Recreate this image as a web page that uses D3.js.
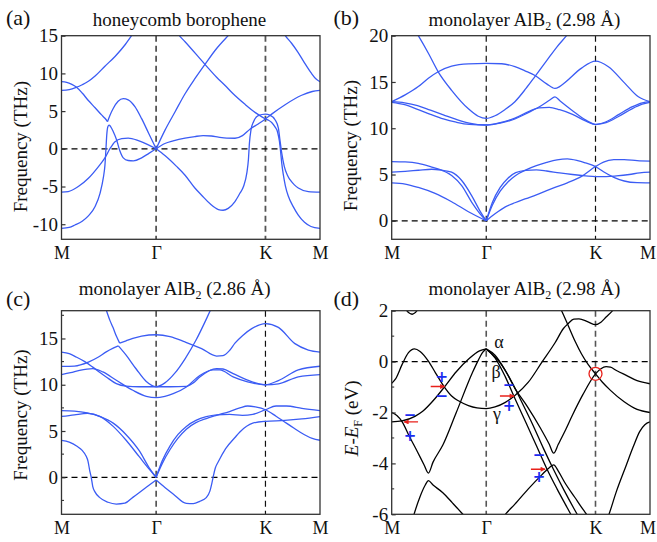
<!DOCTYPE html>
<html><head><meta charset="utf-8">
<script src="https://cdn.jsdelivr.net/npm/d3@7/dist/d3.min.js"></script>
<style>
body{margin:0;background:#fff;}
svg text{font-family:"Liberation Serif","Times New Roman",serif;}
</style></head><body>
<svg id="chart" width="657" height="542"></svg>
<script>
// ---------------- data ----------------
const kTicks = [0, 0.366, 0.789, 1];
const kLabels = ["M", "Γ", "K", "M"];

const yTicksA = [-10, -5, 0, 5, 10, 15];
const yTicksB = [0, 5, 10, 15, 20];
const yTicksC = [0, 5, 10, 15];
const yMinorC = [-2.5, 2.5, 7.5, 12.5, 17.5];
const yTicksD = [-6, -4, -2, 0, 2];
const yMinorD = [-5, -3, -1, 1];

// honeycomb borophene phonons (THz)
const bandsA = [
 [[0,7.75],[0.03,7.85],[0.057,8.15],[0.08,8.5],[0.104,8.95],[0.13,9.65],[0.168,10.95],[0.207,12.25],[0.246,13.8],[0.271,15.0],[0.3,16.4]],
 [[0,8.9],[0.02,8.82],[0.04,8.55],[0.057,8.2],[0.08,7.4],[0.104,6.4],[0.13,5.45],[0.155,4.5],[0.168,4.05],[0.178,3.6]],
 [[0.178,3.6],[0.188,4.5],[0.2,5.35],[0.219,6.3],[0.239,6.65],[0.258,6.5],[0.284,5.6],[0.31,4.0],[0.338,2.0],[0.366,0]],
 [[0,-10.55],[0.03,-10.42],[0.052,-10.1],[0.08,-9.6],[0.104,-8.9],[0.13,-7.66],[0.149,-5.9],[0.162,-3.8],[0.168,-2.2],[0.172,0.0],[0.175,1.8],[0.179,2.9],[0.184,3.15],[0.19,2.95],[0.2,2.3],[0.213,1.2],[0.226,-0.3],[0.239,-1.2],[0.258,-1.55],[0.278,-1.6],[0.31,-1.2],[0.338,-0.6],[0.366,0]],
 [[0,-5.75],[0.026,-5.67],[0.065,-5.0],[0.104,-3.9],[0.143,-2.35],[0.168,-1.2],[0.188,0.05],[0.207,0.95],[0.233,1.35],[0.258,1.42],[0.297,1.1],[0.338,0.5],[0.366,0]],
 [[0.366,0],[0.40,2.45],[0.44,4.95],[0.478,7.3],[0.516,9.3],[0.555,11.2],[0.6,13.3],[0.646,15.05],[0.7,17]],
 [[0.42,16.7],[0.451,15.2],[0.478,14.2],[0.555,11.2],[0.6,9.5],[0.633,8.4],[0.664,7.3],[0.71,5.9],[0.75,4.8],[0.789,3.95]],
 [[0.789,3.95],[0.80,3.8],[0.813,3.5],[0.826,2.9],[0.836,2.2],[0.843,1.0],[0.848,-0.5],[0.852,-1.9],[0.858,-3.4],[0.866,-4.9],[0.878,-6.33],[0.897,-7.7],[0.916,-8.8],[0.94,-9.75],[0.965,-10.3],[1.0,-10.55]],
 [[0.366,0],[0.40,0.7],[0.432,1.05],[0.478,1.42],[0.516,1.63],[0.548,1.75],[0.58,1.7],[0.607,1.55],[0.64,1.42],[0.671,1.4],[0.70,1.75],[0.729,2.6],[0.761,3.3],[0.789,3.95],[0.813,4.6],[0.865,5.85],[0.929,7.1],[0.97,7.6],[1.0,7.75]],
 [[0.366,0],[0.40,-0.9],[0.444,-2.3],[0.478,-3.5],[0.516,-5.2],[0.542,-6.15],[0.575,-7.3],[0.607,-8.05],[0.625,-8.15],[0.645,-7.9],[0.671,-7.0],[0.69,-5.9],[0.704,-5.0],[0.717,-3.2],[0.723,-1.46],[0.727,0.75],[0.733,2.5],[0.743,3.6],[0.761,4.4],[0.789,4.6],[0.806,4.47],[0.826,3.85],[0.839,2.75],[0.845,1.2],[0.852,-0.57],[0.862,-2.35],[0.874,-3.5],[0.884,-4.1],[0.9,-4.75],[0.916,-5.2],[0.955,-5.67],[1.0,-5.75]],
 [[0.845,16.3],[0.865,15.05],[0.89,14.0],[0.915,12.8],[0.94,11.4],[0.965,10.1],[0.985,9.25],[1.0,8.9]]
];

// monolayer AlB2 (2.98 Å) phonons
const bandsB = [
 [[0.09,20.6],[0.103,20.0],[0.142,18.1],[0.18,16.1],[0.232,14.1],[0.297,12.1],[0.335,11.3],[0.366,11.07],[0.40,11.35],[0.44,12.05],[0.477,12.87],[0.52,14.3],[0.555,15.6],[0.6,17.3],[0.64,18.8],[0.677,20.0],[0.7,20.8]],
 [[0,12.87],[0.052,13.6],[0.103,14.5],[0.142,15.4],[0.18,16.1],[0.232,16.7],[0.297,16.95],[0.366,17.0],[0.426,16.97],[0.477,16.65],[0.516,16.2],[0.555,15.7],[0.6,14.8],[0.632,14.3],[0.65,14.5],[0.671,14.95],[0.735,16.5],[0.789,17.25],[0.839,16.65],[0.903,14.85],[0.955,13.4],[1.0,12.87]],
 [[0,12.87],[0.05,12.75],[0.1,12.45],[0.15,11.95],[0.2,11.45],[0.25,10.95],[0.3,10.55],[0.366,10.35],[0.42,10.6],[0.477,11.1],[0.53,11.8],[0.57,12.2],[0.61,12.25],[0.65,12.0],[0.70,11.5],[0.75,10.8],[0.789,10.4],[0.83,10.7],[0.88,11.5],[0.93,12.3],[0.97,12.75],[1.0,12.87]],
 [[0,12.8],[0.05,12.55],[0.1,12.05],[0.15,11.5],[0.2,11.0],[0.25,10.65],[0.3,10.42],[0.366,10.35],[0.42,10.55],[0.477,11.0],[0.53,11.7],[0.58,12.45],[0.612,13.05],[0.632,13.4],[0.652,12.95],[0.70,11.9],[0.75,10.9],[0.789,10.42],[0.83,10.6],[0.88,11.3],[0.93,12.1],[0.97,12.6],[1.0,12.8]],
 [[0,6.4],[0.052,6.36],[0.103,6.2],[0.155,5.8],[0.194,5.46],[0.232,4.9],[0.271,3.8],[0.31,2.0],[0.342,0.75],[0.366,0]],
 [[0,5.25],[0.052,5.35],[0.103,5.46],[0.155,5.57],[0.194,5.46],[0.232,5.25],[0.271,4.35],[0.31,2.7],[0.342,1.05],[0.366,0]],
 [[0,4.1],[0.052,3.97],[0.103,3.6],[0.168,2.96],[0.232,2.06],[0.297,0.98],[0.366,0]],
 [[0.366,0],[0.39,2.0],[0.42,3.6],[0.45,4.6],[0.48,5.2],[0.52,5.45],[0.56,5.5],[0.6,5.38],[0.65,5.17],[0.7,5.0],[0.75,4.86],[0.789,4.78],[0.83,4.78],[0.87,4.85],[0.92,5.0],[0.96,5.18],[1.0,5.25]],
 [[0.366,0],[0.39,1.7],[0.42,3.2],[0.45,4.2],[0.48,4.9],[0.52,5.5],[0.56,5.95],[0.6,6.3],[0.64,6.58],[0.68,6.69],[0.72,6.5],[0.75,6.25],[0.789,5.86],[0.82,5.3],[0.86,4.7],[0.9,4.3],[0.95,4.12],[1.0,4.1]],
 [[0.366,0],[0.40,0.75],[0.44,1.5],[0.477,1.95],[0.52,2.4],[0.56,2.8],[0.6,3.25],[0.632,3.6],[0.68,4.1],[0.735,4.8],[0.789,5.86],[0.82,6.35],[0.86,6.6],[0.9,6.62],[0.95,6.5],[1.0,6.45]]
];

// monolayer AlB2 (2.86 Å) phonons
const bandsC = [
 [[0.163,18.8],[0.173,18.07],[0.188,16.9],[0.199,16.2],[0.213,15.2],[0.225,14.5]],
 [[0.225,14.5],[0.25,14.75],[0.276,15.0],[0.31,15.25],[0.366,15.4],[0.42,15.2],[0.478,14.62],[0.542,13.9],[0.6,13.1],[0.625,13.15],[0.65,13.7],[0.671,14.5],[0.7,15.3],[0.736,16.06],[0.789,16.6],[0.839,16.2],[0.903,14.44],[0.955,13.75],[1.0,13.53]],
 [[0,11.98],[0.05,12.02],[0.104,12.45],[0.143,13.0],[0.173,13.55],[0.2,13.95],[0.22,14.2]],
 [[0.22,14.2],[0.25,13.2],[0.289,11.7],[0.328,10.35],[0.366,9.78],[0.40,10.2],[0.44,11.3],[0.478,12.8],[0.52,14.8],[0.562,17.2],[0.585,18.6]],
 [[0,13.53],[0.03,13.35],[0.057,13.0],[0.09,12.5],[0.121,11.9],[0.15,11.3],[0.173,10.84],[0.212,10.12],[0.25,9.85],[0.3,9.78],[0.366,9.78],[0.42,9.78],[0.483,9.82],[0.51,10.2],[0.535,10.84],[0.6,11.75],[0.625,11.7],[0.664,11.2],[0.72,10.5],[0.789,10.0],[0.839,10.45],[0.916,11.6],[1.0,12.0]],
 [[0,11.1],[0.035,11.3],[0.07,11.56],[0.121,11.75],[0.16,11.38],[0.212,10.48],[0.276,9.4],[0.328,8.75],[0.366,8.6],[0.40,8.75],[0.432,9.03],[0.483,9.76],[0.535,11.0],[0.587,11.6],[0.612,11.6],[0.664,10.84],[0.72,10.3],[0.789,10.0],[0.839,10.1],[0.916,10.85],[1.0,11.1]],
 [[0,7.2],[0.05,7.15],[0.1,6.95],[0.15,6.55],[0.2,5.85],[0.25,4.6],[0.3,2.9],[0.34,1.0],[0.366,0]],
 [[0.366,0],[0.39,1.5],[0.42,3.0],[0.45,4.2],[0.483,5.2],[0.52,5.9],[0.56,6.35],[0.6,6.7],[0.65,7.1],[0.69,7.5],[0.72,7.7],[0.75,7.6],[0.789,7.3],[0.83,6.6],[0.87,5.85],[0.9,5.3],[0.94,4.6],[0.97,4.2],[1.0,4.0]],
 [[0,6.57],[0.05,6.75],[0.1,6.9],[0.15,6.55],[0.2,5.5],[0.25,4.0],[0.3,2.25],[0.34,0.85],[0.366,0]],
 [[0.366,0],[0.39,1.8],[0.42,3.4],[0.45,4.6],[0.483,5.5],[0.52,6.15],[0.56,6.55],[0.6,6.75],[0.65,6.8],[0.7,6.7],[0.74,6.8],[0.789,7.3],[0.83,7.7],[0.87,7.7],[0.93,7.45],[1.0,7.2]],
 [[0,3.98],[0.03,3.8],[0.06,3.35],[0.08,2.9],[0.095,2.3],[0.102,1.8],[0.11,0.6],[0.115,0],[0.121,-1.0],[0.13,-1.6],[0.147,-2.17],[0.18,-2.7],[0.212,-2.89],[0.245,-2.8],[0.276,-2.17],[0.328,-1.08],[0.366,-0.3]],
 [[0.366,-0.3],[0.40,-1.1],[0.432,-1.8],[0.483,-2.82],[0.51,-2.85],[0.535,-2.6],[0.56,-2.2],[0.574,-1.5],[0.582,-0.6],[0.588,0.2],[0.595,1.0],[0.607,1.7],[0.635,3.1],[0.671,4.3],[0.69,4.9],[0.74,5.85],[0.789,6.05],[0.864,6.14],[0.93,6.3],[1.0,6.55]]
];

// monolayer AlB2 (2.98 Å) electronic bands (eV)
const bandsD = [
 [[0.04,2.3],[0.058,2.0],[0.079,1.86],[0.098,2.0],[0.115,2.3]],
 [[0,-0.85],[0.015,-0.68],[0.04,-0.12],[0.065,0.35],[0.088,0.5],[0.11,0.4],[0.142,0.02],[0.17,-0.45],[0.204,-1.0],[0.232,-1.35],[0.26,-1.55],[0.297,-1.73],[0.33,-1.82],[0.366,-1.85],[0.40,-1.78],[0.44,-1.6],[0.477,-1.33],[0.529,-0.81],[0.581,-0.03],[0.633,0.75],[0.665,1.3],[0.684,1.5],[0.705,1.67],[0.725,1.68],[0.76,1.56],[0.789,1.45],[0.81,1.55],[0.83,1.75],[0.855,2.0],[0.88,2.35]],
 [[0,-2.37],[0.04,-2.33],[0.09,-2.15],[0.12,-1.95],[0.168,-1.45],[0.204,-1.0],[0.25,-0.4],[0.30,0.12],[0.34,0.42],[0.366,0.5]],
 [[0,-2.0],[0.02,-2.12],[0.04,-2.36],[0.069,-2.95],[0.1,-3.55],[0.125,-4.05],[0.142,-4.38],[0.16,-3.95],[0.198,-3.28],[0.25,-2.0],[0.314,-0.4],[0.335,0.05],[0.352,0.36],[0.366,0.5]],
 [[0.075,-6.4],[0.088,-5.95],[0.11,-5.3],[0.13,-4.85],[0.142,-4.68],[0.16,-4.85],[0.198,-5.15],[0.235,-5.55],[0.271,-5.95],[0.3,-6.3]],
 [[0.366,0.5],[0.40,0.25],[0.44,-0.35],[0.477,-1.05],[0.524,-1.75],[0.575,-2.6],[0.61,-3.25],[0.627,-3.6],[0.645,-3.25],[0.67,-2.75],[0.7,-2.1],[0.74,-1.3],[0.789,-0.48],[0.81,-0.28],[0.83,-0.2],[0.847,-0.22],[0.87,-0.35],[0.91,-0.55],[0.95,-0.75],[1.0,-0.87]],
 [[0.366,0.5],[0.40,0.15],[0.44,-0.6],[0.477,-1.45],[0.52,-2.4],[0.56,-3.3],[0.6,-4.2],[0.64,-5.0],[0.68,-5.75],[0.72,-6.5]],
 [[0.366,0.5],[0.42,-0.05],[0.465,-0.8],[0.504,-1.6],[0.547,-2.5],[0.587,-3.4],[0.627,-4.25],[0.667,-5.05],[0.707,-5.8],[0.747,-6.5]],
 [[0.41,-6.4],[0.44,-6.0],[0.477,-5.6],[0.529,-5.0],[0.581,-4.45],[0.61,-4.17],[0.627,-4.06],[0.645,-4.3],[0.67,-4.75],[0.71,-5.35],[0.74,-5.8],[0.761,-6.1],[0.78,-6.4]],
 [[0.63,2.55],[0.66,1.95],[0.684,1.4],[0.71,0.8],[0.735,0.3],[0.761,-0.12],[0.789,-0.48],[0.815,-0.8],[0.847,-1.13],[0.9,-1.58],[0.95,-1.88],[1.0,-2.0]],
 [[0.82,-6.6],[0.843,-5.95],[0.87,-5.1],[0.907,-4.1],[0.935,-3.35],[0.96,-2.75],[0.98,-2.48],[1.0,-2.37]]
];

// annotations of panel (d), in data units
const greekD = [["α",0.4154,0.547],["β",0.4038,-0.645],["γ",0.4077,-2.305]];
const arrowsD = [[0.151,0.205,-0.98],[0.419,0.474,-1.35],[0.102,0.048,-2.37],[0.539,0.594,-4.23]];
const signsD = [["+",0.1936,-0.586],["−",0.1936,-1.328],["−",0.4541,-0.898],["+",0.4541,-1.746],
                ["−",0.0708,-2.082],["+",0.0708,-2.93],["−",0.5703,-3.672],["+",0.5703,-4.52]];
const diracD = [0.789,-0.48];

// ---------------- drawing ----------------
const svg = d3.select("#chart");
const BLUE = "#3b5cf4";
const FS = 19;

const defs = svg.append("defs");
defs.append("marker").attr("id","arr").attr("viewBox","0 0 10 10")
  .attr("refX",9).attr("refY",5).attr("markerWidth",6).attr("markerHeight",5)
  .attr("markerUnits","userSpaceOnUse").attr("orient","auto")
  .append("path").attr("d","M0,0L10,5L0,10z").attr("fill","#e8201a");

const panels = [
 {id:"a", bands:bandsA, dom:[-12,15], major:yTicksA, minor:[], box:[61.5,35.7,320,239.3], col:BLUE,
  vcol:"#555", vw:1.8, title:[["honeycomb borophene",0]], tcx:179.5, tby:25.5, letter:"(a)", lx:6, lby:25,
  ylab:"freq", ylx:27, ylcy:146.7},
 {id:"b", bands:bandsB, dom:[-2,20], major:yTicksB, minor:[], box:[391.7,35.7,650,239.3], col:BLUE,
  vcol:"#111", vw:1.2, title:[["monolayer AlB",0],["2",1],[" (2.98 Å)",0]], tcx:524.5, tby:25.5, letter:"(b)", lx:333.5, lby:25,
  ylab:"freq", ylx:357, ylcy:145.7},
 {id:"c", bands:bandsC, dom:[-4,18], major:yTicksC, minor:yMinorC, box:[61.5,310.7,320,514.3], col:BLUE,
  vcol:"#111", vw:1.2, title:[["monolayer AlB",0],["2",1],[" (2.86 Å)",0]], tcx:174.7, tby:295, letter:"(c)", lx:6, lby:305.5,
  ylab:"freq", ylx:27, ylcy:415},
 {id:"d", bands:bandsD, dom:[-6,2], major:yTicksD, minor:yMinorD, box:[391.7,310.7,650,514.3], col:"#000",
  vcol:"#555", vw:1.6, title:[["monolayer AlB",0],["2",1],[" (2.98 Å)",0]], tcx:524.5, tby:295, letter:"(d)", lx:333.5, lby:305.5,
  ylab:"E", ylx:358, ylcy:418.3}
];

panels.forEach(p => {
  const [x0,y0,x1,y1] = p.box;
  const x = d3.scaleLinear().domain([0,1]).range([x0,x1]);
  const y = d3.scaleLinear().domain(p.dom).range([y1,y0]);
  const g = svg.append("g");

  defs.append("clipPath").attr("id","clip-"+p.id)
    .append("rect").attr("x",x0).attr("y",y0).attr("width",x1-x0).attr("height",y1-y0);

  const plot = g.append("g").attr("clip-path","url(#clip-"+p.id+")");

  // dashed guides
  plot.selectAll(".vd").data(kTicks.slice(1,3)).join("line")
    .attr("x1",d=>x(d)).attr("x2",d=>x(d)).attr("y1",y0).attr("y2",y1)
    .attr("stroke",p.vcol).attr("stroke-width",p.vw).attr("stroke-dasharray","6,4");
  plot.append("line").attr("x1",x0).attr("x2",x1).attr("y1",y(0)).attr("y2",y(0))
    .attr("stroke","#000").attr("stroke-width",1.3).attr("stroke-dasharray","6,4");

  // bands
  const line = d3.line().x(d=>x(d[0])).y(d=>y(d[1])).curve(d3.curveMonotoneX);
  plot.selectAll(".band").data(p.bands).join("path")
    .attr("d",line).attr("fill","none").attr("stroke",p.col).attr("stroke-width",1.3)
    .attr("stroke-linejoin","round");

  if (p.id === "d") {
    plot.append("circle").attr("cx",x(diracD[0])).attr("cy",y(diracD[1])).attr("r",6.5)
      .attr("fill","none").attr("stroke","#e8201a").attr("stroke-width",1.3);
    plot.selectAll(".arr").data(arrowsD).join("line")
      .attr("x1",d=>x(d[0])).attr("x2",d=>x(d[1])).attr("y1",d=>y(d[2])).attr("y2",d=>y(d[2]))
      .attr("stroke","#e8201a").attr("stroke-width",1.4).attr("marker-end","url(#arr)");
    plot.selectAll(".sg").data(signsD).join("text")
      .attr("x",d=>x(d[1])).attr("y",d=>y(d[2])).attr("text-anchor","middle").attr("dy","0.35em")
      .attr("fill","#1a2cf0").attr("font-weight","bold").attr("font-size",15)
      .style("font-family","'DejaVu Sans',sans-serif").text(d=>d[0]);
    g.selectAll(".gk").data(greekD).join("text")
      .attr("x",d=>x(d[1])).attr("y",d=>y(d[2])).attr("text-anchor","middle")
      .attr("font-size",18).attr("fill","#111").text(d=>d[0]);
  }

  // frame
  g.append("rect").attr("x",x0).attr("y",y0).attr("width",x1-x0).attr("height",y1-y0)
    .attr("fill","none").attr("stroke","#333").attr("stroke-width",1.3);

  // y axis
  const ya = g.append("g").attr("transform",`translate(${x0},0)`)
    .call(d3.axisLeft(y).tickValues(p.major).tickFormat(d=>String(d))
      .tickSizeInner(-4).tickSizeOuter(0).tickPadding(3.5));
  ya.select(".domain").remove();
  ya.selectAll("line").attr("stroke","#333").attr("stroke-width",1.2);
  ya.selectAll("text").attr("font-size",FS).attr("fill","#111")
    .style("font-family","'Liberation Serif','Times New Roman',serif");
  ya.selectAll(".mt").data(p.minor).join("line")
    .attr("x1",0).attr("x2",2.5).attr("y1",d=>y(d)).attr("y2",d=>y(d))
    .attr("stroke","#333").attr("stroke-width",1.1);

  // x axis labels
  const xa = g.append("g").attr("transform",`translate(0,${y1})`)
    .call(d3.axisBottom(x).tickValues(kTicks).tickFormat((d,i)=>kLabels[i]).tickSize(0).tickPadding(7));
  xa.select(".domain").remove();
  xa.selectAll("text").attr("font-size",18).attr("fill","#111")
    .style("font-family","'Liberation Serif','Times New Roman',serif");
  if (x1 > 640) {
    xa.selectAll(".tick").filter((d,i)=>i===kTicks.length-1).select("text").attr("dx",-2.5);
  }

  // title
  const t = g.append("text").attr("x",p.tcx).attr("y",p.tby).attr("text-anchor","middle")
    .attr("font-size",FS).attr("fill","#111");
  let shifted = false;
  p.title.forEach(([s,sub]) => {
    const ts = t.append("tspan").text(s);
    if (sub) { ts.attr("font-size",12).attr("dy",4); shifted = true; }
    else if (shifted) { ts.attr("dy",-4); shifted = false; }
  });
  // panel letter
  g.append("text").attr("x",p.lx).attr("y",p.lby).attr("font-size",22).attr("fill","#111").text(p.letter);

  // y label
  const yl = g.append("text").attr("transform",`translate(${p.ylx},${p.ylcy}) rotate(-90)`)
    .attr("text-anchor","middle").attr("font-size",FS).attr("fill","#111");
  if (p.ylab === "freq") {
    yl.text("Frequency (THz)");
  } else {
    yl.append("tspan").attr("font-style","italic").text("E");
    yl.append("tspan").text("-");
    yl.append("tspan").attr("font-style","italic").text("E");
    yl.append("tspan").attr("font-size",12).attr("dy",4).text("F");
    yl.append("tspan").attr("dy",-4).text(" (eV)");
  }
});
</script>
</body></html>
